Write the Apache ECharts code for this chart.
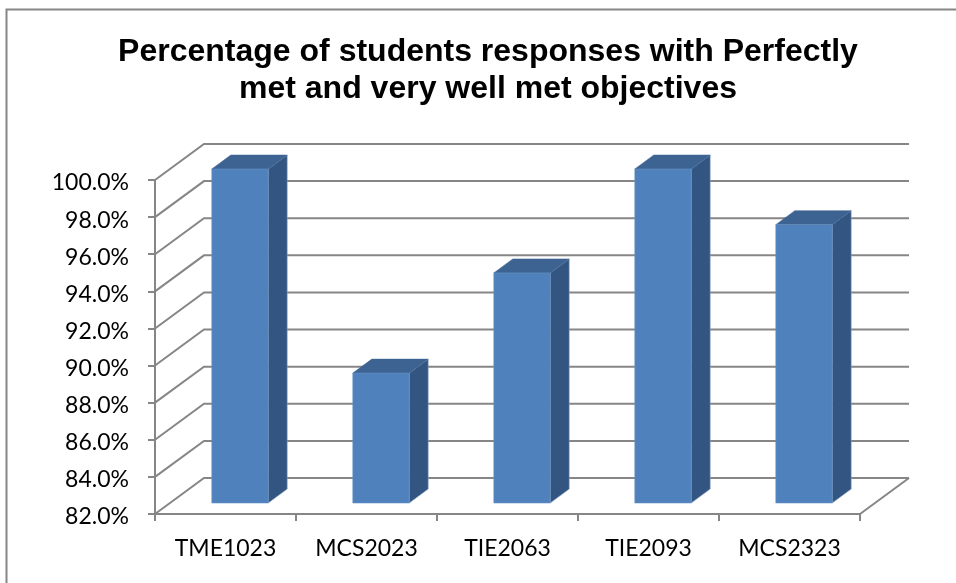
<!DOCTYPE html>
<html><head><meta charset="utf-8">
<style>html,body{margin:0;padding:0;background:#fff}#c{width:956px;height:583px}</style>
<script src="https://cdn.jsdelivr.net/npm/echarts@6/dist/echarts.min.js"></script>
</head><body><div id="c"></div>
<script>
var categories = ['TME1023','MCS2023','TIE2063','TIE2093','MCS2323'];
var percentValues = [100.0, 89.0, 94.4, 100.0, 97.0];
var yTicks = [82,84,86,88,90,92,94,96,98,100];
var titleText = 'Percentage of students responses with Perfectly\nmet and very well met objectives';

var wallDepth = [49, -36];
var barOffset = [14.5, -11];
var barDepth = [19, -14];
var gridColor = '#868686';

var chart = echarts.init(document.getElementById('c'), null, {renderer:'canvas'});

function wallItem(params, api){
  var v = api.value(1);
  var band = api.size([1,0])[0];
  var p = api.coord([0, v]);
  var x0 = p[0] - band/2, y0 = p[1];
  var x1 = x0 + band*categories.length;
  var children = [{
    type:'polyline',
    shape:{points:[[x0,y0],[x0+wallDepth[0],y0+wallDepth[1]],[x1+wallDepth[0],y0+wallDepth[1]]]},
    style:{stroke:gridColor,lineWidth:2,fill:null}
  }];
  if (v === yTicks[0]) {
    children.push({type:'line',shape:{x1:x1,y1:y0,x2:x1+wallDepth[0],y2:y0+wallDepth[1]},style:{stroke:gridColor,lineWidth:2}});
  }
  return {type:'group',children:children};
}

function barItem(params, api){
  var top = api.coord([api.value(0), api.value(1)]);
  var base = api.coord([api.value(0), yTicks[0]]);
  var w = api.size([1,0])[0]*0.4;
  var xl = top[0]-w/2+barOffset[0], xr = xl+w;
  var yt = top[1]+barOffset[1], yb = base[1]+barOffset[1];
  var dx = barDepth[0], dy = barDepth[1];
  return {type:'group',children:[
    {type:'polygon',shape:{points:[[xr,yt],[xr+dx,yt+dy],[xr+dx,yb+dy],[xr,yb]]},
      style:{fill:'#325581',stroke:'#8aa3c0',lineWidth:0.6}},
    {type:'polygon',shape:{points:[[xl,yt],[xl+dx,yt+dy],[xr+dx,yt+dy],[xr,yt]]},
      style:{fill:'#3c6392',stroke:'#3c6392',lineWidth:0.5}},
    {type:'rect',shape:{x:xl,y:yt,width:w,height:yb-yt},
      style:{fill:'#4f81bd',stroke:'#6a94c6',lineWidth:0.6}}
  ]};
}

chart.setOption({
  animation:false,
  backgroundColor:'#ffffff',
  title:{
    text:titleText,left:483,top:29,textAlign:'center',
    textStyle:{fontFamily:'"Liberation Sans"',fontWeight:'bold',fontSize:32,lineHeight:37,color:'#000'}
  },
  graphic:[{type:'rect',silent:true,z:-1,shape:{x:6.5,y:9.5,width:1000,height:700},
    style:{fill:null,stroke:'#868686',lineWidth:2}}],
  grid:{left:155,right:96,top:180,bottom:69},
  xAxis:{
    type:'category',data:categories,
    axisLine:{lineStyle:{color:gridColor,width:2}},
    axisTick:{show:true,length:7,alignWithLabel:false,lineStyle:{color:gridColor,width:2}},
    axisLabel:{margin:23,fontFamily:'Lato',fontSize:23,color:'#000'}
  },
  yAxis:{
    type:'value',min:yTicks[0],max:yTicks[yTicks.length-1],interval:2,
    axisLine:{show:true,lineStyle:{color:gridColor,width:2}},
    axisTick:{show:true,length:7,lineStyle:{color:gridColor,width:2}},
    splitLine:{show:false},
    axisLabel:{margin:26,fontFamily:'Lato',fontSize:23,color:'#000',
      formatter:function(v){return '{a|'+v.toFixed(1)+'%}';},
      rich:{a:{fontFamily:'Lato',fontSize:23,color:'#000',padding:[6,0,0,0]}}}
  },
  series:[
    {type:'custom',coordinateSystem:'cartesian2d',renderItem:wallItem,clip:false,z:1,silent:true,
      data:yTicks.map(function(v){return [0,v];})},
    {type:'custom',coordinateSystem:'cartesian2d',renderItem:barItem,clip:false,z:2,
      data:percentValues.map(function(v,i){return [i,v];})}
  ]
});
</script></body></html>
